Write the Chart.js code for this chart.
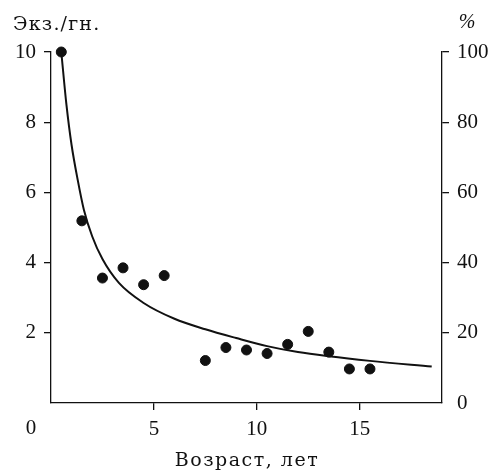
<!DOCTYPE html>
<html>
<head>
<meta charset="utf-8">
<script src="https://cdn.jsdelivr.net/npm/chart.js@4/dist/chart.umd.min.js"></script>
<style>
  html, body { margin: 0; padding: 0; background: #fff; }
  #wrap { width: 496px; height: 471px; }
</style>
</head>
<body>
<div id="wrap"><canvas id="chart" width="496" height="471"></canvas></div>
<script>
// observed counts per age class
const ageX = [0.5, 1.5, 2.5, 3.5, 4.5, 5.5, 7.5, 8.5, 9.5, 10.5, 11.5, 12.5, 13.5, 14.5, 15.5];
const countY = [10.0, 5.19, 3.56, 3.85, 3.37, 3.63, 1.21, 1.58, 1.51, 1.41, 1.67, 2.04, 1.45, 0.97, 0.97];

// fitted curve
const curveX = [0.5, 0.75, 1.0, 1.3, 1.6, 2.0, 2.5, 3.3, 4.5, 6, 7.5, 9, 10.5, 12, 13.5, 15.5, 18.5];
const curveY = [10.0, 8.5, 7.35, 6.35, 5.5, 4.75, 4.1, 3.42, 2.85, 2.4, 2.1, 1.85, 1.62, 1.45, 1.33, 1.2, 1.04];

const leftTicks = [0, 2, 4, 6, 8, 10];
const rightTicks = [0, 20, 40, 60, 80, 100];
const xTicks = [0, 5, 10, 15];

const yTitle = 'Экз./гн.';
const y2Title = '%';
const xTitle = 'Возраст, лет';

const TEXT_FONT = '"DejaVu Serif", serif';
const NUM_FONT = '"Liberation Serif", "DejaVu Serif", serif';
const INK = '#111';

const points = ageX.map((x, i) => ({ x, y: countY[i] }));
const curve = curveX.map((x, i) => ({ x, y: curveY[i] }));

// titles and the lone origin label, drawn outside the axes
const labelsPlugin = {
  id: 'extraLabels',
  afterDraw(chart) {
    const ctx = chart.ctx;
    ctx.save();
    ctx.fillStyle = INK;
    ctx.textBaseline = 'middle';
    ctx.font = '19px ' + TEXT_FONT;
    ctx.letterSpacing = '1.2px';
    ctx.textAlign = 'left';
    ctx.fillText(yTitle, 13, 25);
    ctx.textAlign = 'center';
    ctx.letterSpacing = '1.5px';
    ctx.fillText(xTitle, 247, 461);
    ctx.letterSpacing = '0px';
    ctx.font = 'italic 20px ' + NUM_FONT;
    ctx.fillText(y2Title, 467, 23);
    ctx.font = '21px ' + NUM_FONT;
    ctx.fillText('0', 31, 428);
    ctx.restore();
  }
};

const tickGrid = () => ({
  drawOnChartArea: false,
  drawTicks: true,
  tickLength: 7,
  lineWidth: 1.3,
  color: c => (c.tick && c.tick.value === 0) ? 'rgba(0,0,0,0)' : INK
});

const numFont = { family: NUM_FONT, size: 21 };

new Chart(document.getElementById('chart'), {
  type: 'scatter',
  data: {
    datasets: [
      {
        type: 'line',
        data: curve,
        borderColor: INK,
        borderWidth: 2,
        pointRadius: 0,
        fill: false,
        cubicInterpolationMode: 'monotone',
        clip: false
      },
      {
        data: points,
        backgroundColor: INK,
        borderColor: INK,
        pointRadius: 5,
        pointHoverRadius: 5,
        clip: false
      }
    ]
  },
  options: {
    responsive: false,
    animation: false,
    events: [],
    layout: { padding: { top: 52, left: 0, right: 0, bottom: 0 } },
    plugins: {
      legend: { display: false },
      tooltip: { enabled: false }
    },
    scales: {
      x: {
        type: 'linear',
        min: 0,
        max: 19,
        afterBuildTicks: s => { s.ticks = xTicks.map(v => ({ value: v })); },
        afterFit: s => { s.height = 68; },
        border: { display: true, color: INK, width: 1.3 },
        grid: tickGrid(),
        ticks: {
          color: INK,
          padding: 7,
          font: numFont,
          callback: v => v === 0 ? '' : v
        }
      },
      y: {
        position: 'left',
        min: 0,
        max: 10,
        afterBuildTicks: s => { s.ticks = leftTicks.map(v => ({ value: v })); },
        afterFit: s => { s.width = 51; },
        border: { display: true, color: INK, width: 1.3 },
        grid: tickGrid(),
        ticks: {
          color: INK,
          padding: 8,
          font: numFont,
          callback: v => v === 0 ? '' : v
        }
      },
      y2: {
        position: 'right',
        min: 0,
        max: 100,
        afterBuildTicks: s => { s.ticks = rightTicks.map(v => ({ value: v })); },
        afterFit: s => { s.width = 54; },
        border: { display: true, color: INK, width: 1.3 },
        grid: tickGrid(),
        ticks: {
          color: INK,
          padding: 8,
          font: numFont
        }
      }
    }
  },
  plugins: [labelsPlugin]
});
</script>
</body>
</html>
